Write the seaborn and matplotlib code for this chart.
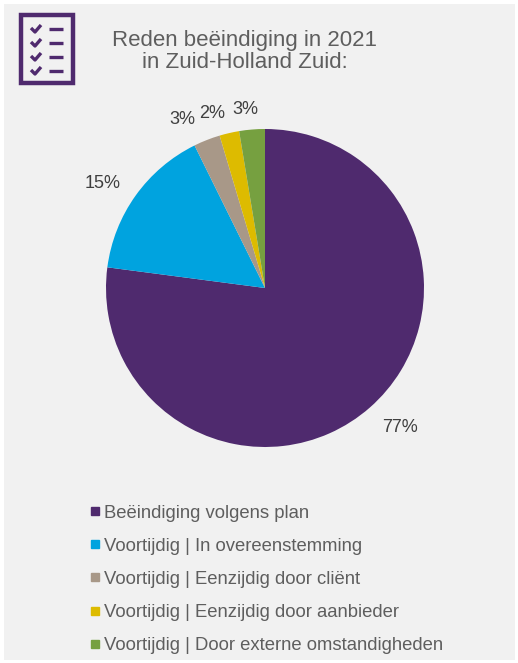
import matplotlib
matplotlib.use("Agg")
import matplotlib.pyplot as plt
from matplotlib.lines import Line2D
from matplotlib.patches import Rectangle
import seaborn as sns

categories = ["Beëindiging volgens plan", "Voortijdig | In overeenstemming",
              "Voortijdig | Eenzijdig door cliënt", "Voortijdig | Eenzijdig door aanbieder",
              "Voortijdig | Door externe omstandigheden"]
values = [77.0, 15.6, 2.7, 2.0, 2.6]
pct_labels = ["77%", "15%", "3%", "2%", "3%"]
colors = ["#4F2A6E", "#00A3DF", "#A89888", "#DDBB00", "#76A040"]
title = "Reden beëindiging in 2021\nin Zuid-Holland Zuid:"

sns.set_theme(style="white")
plt.rcParams['font.family'] = ['Liberation Sans', 'DejaVu Sans']
W, H = 518, 663
BG = "#F1F1F1"
TXT = "#5E5E5E"
palette = sns.color_palette(colors)

fig = plt.figure(figsize=(W/100, H/100), dpi=100, facecolor="white")
# full-figure pixel axes for panel and icon
bg = fig.add_axes([0, 0, 1, 1], zorder=0)
bg.set_xlim(0, W); bg.set_ylim(H, 0); bg.axis("off")
bg.add_patch(Rectangle((4, 4), 511, 656, fc=BG, ec="none"))
P = "#4F2A6E"
bg.add_patch(Rectangle((21, 15), 52, 68, fc="none", ec=P, lw=3.2))
for y in [29, 43, 57, 71]:
    bg.plot([31, 35, 41], [y-1, y+3, y-4], color=P, lw=2.4, solid_capstyle="butt")
    bg.plot([49, 63], [y, y], color=P, lw=2.4, solid_capstyle="butt")
bg.text(244.5, 51.5, title, ha="center", va="center", fontsize=16, color=TXT, linespacing=1.08)

# pie: centre (265,288), radius 159 px
R = 159
ax = fig.add_axes([(265-R)/W, 1-(288+R)/H, 2*R/W, 2*R/H], zorder=1)
wedges, _ = ax.pie(values, colors=palette, startangle=90, counterclock=False, radius=1,
                   wedgeprops=dict(linewidth=0))
ax.set_xlim(-1, 1); ax.set_ylim(-1, 1); ax.set_aspect("equal")
label_px = [(400, 427), (103, 184), (182, 120), (212, 113), (245, 110)]
for lab, (x, y) in zip(pct_labels, label_px):
    bg.text(x, y, lab, ha="center", va="center", fontsize=13, color="#3F3F3F")

handles = [Line2D([], [], marker="s", ls="none", ms=6, color=c) for c in palette]
leg = bg.legend(handles, categories, loc="upper left", bbox_to_anchor=(89.5/W, 1-(504.5/H)),
                bbox_transform=fig.transFigure, frameon=False, fontsize=13.35,
                labelspacing=0.875, handlelength=0.6, handletextpad=0.19,
                borderpad=0, borderaxespad=0, labelcolor=TXT)
fig.savefig("out.png", dpi=100)
